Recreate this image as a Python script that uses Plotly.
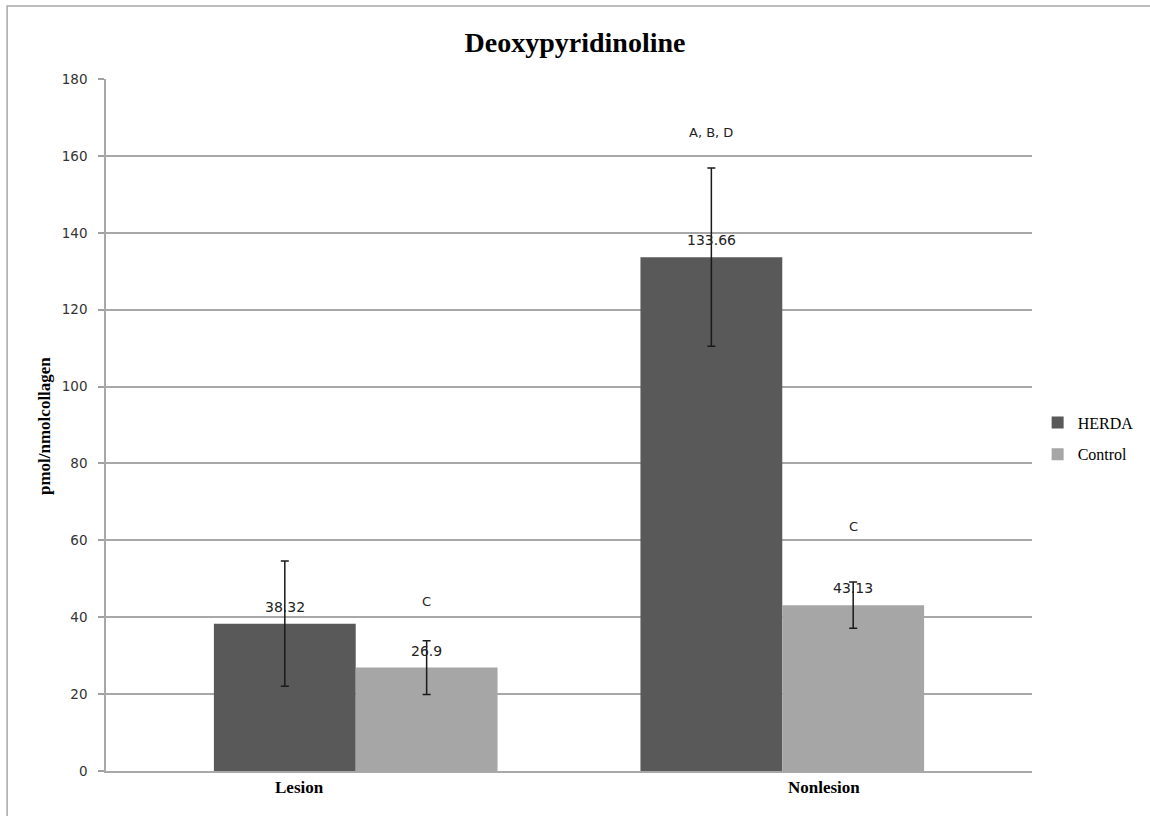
import plotly.graph_objects as go

# Data
categories = ["Lesion", "Nonlesion"]
herda_values = [38.32, 133.66]
herda_errors = [16.3, 23.2]
control_values = [26.9, 43.13]
control_errors = [7.0, 6.0]

# significance letters drawn above selected bars: (category index, series, label, y)
sig_category = [0, 1, 1]
sig_series = ["Control", "HERDA", "Control"]
sig_labels = ["C", "A, B, D", "C"]
sig_y = [44.0, 166.2, 63.5]

y_ticks = [0, 20, 40, 60, 80, 100, 120, 140, 160, 180]

W, H = 1150, 816
L, R, T, B = 106, 117, 79, 45
plot_w = W - L - R
plot_h = H - T - B

BARGAP = 0.335
bar_w = (1 - BARGAP) / 2
x_pos = list(range(len(categories)))

fig = go.Figure()
fig.add_trace(go.Bar(
    name="HERDA", x=x_pos, y=herda_values, marker_color="#595959",
    marker_line_width=0, legendgroup="h",
    error_y=dict(type="data", array=herda_errors, visible=True,
                 color="#1a1a1a", thickness=1.5, width=4),
))
fig.add_trace(go.Bar(
    name="Control", x=x_pos, y=control_values, marker_color="#a6a6a6",
    marker_line_width=0, legendgroup="c",
    error_y=dict(type="data", array=control_errors, visible=True,
                 color="#1a1a1a", thickness=1.5, width=4),
))

annotations = []
# value labels above each bar
for series_vals, off in ((herda_values, -bar_w / 2), (control_values, bar_w / 2)):
    for i, v in enumerate(series_vals):
        annotations.append(dict(
            x=x_pos[i] + off, y=v, xref="x", yref="y", text=f"{v:g}",
            showarrow=False, yshift=17,
            font=dict(family="DejaVu Sans", size=14, color="#222222"),
        ))
# significance letters
for ci, s, lab, yv in zip(sig_category, sig_series, sig_labels, sig_y):
    off = -bar_w / 2 if s == "HERDA" else bar_w / 2
    annotations.append(dict(
        x=x_pos[ci] + off, y=yv, xref="x", yref="y", text=lab,
        showarrow=False, font=dict(family="DejaVu Sans", size=13, color="#222222"),
    ))
# rotated y-axis title
annotations.append(dict(
    x=(45 - L) / plot_w, y=(H - B - 426) / plot_h, xref="paper", yref="paper",
    xanchor="center", yanchor="middle",
    text="<b>pmol/nmolcollagen</b>", textangle=-90, showarrow=False,
    font=dict(family="Liberation Serif", size=17, color="#000000"),
))
# category labels below the axis
cat_label_px = [300, 825]
cat_w = 427.0
for lab, px in zip(categories, cat_label_px):
    annotations.append(dict(
        x=(px - 356) / cat_w, y=-(787 - (H - B)) / plot_h, xref="x", yref="paper",
        xanchor="center", yanchor="middle",
        text=f"<b>{lab}</b>", showarrow=False,
        font=dict(family="Liberation Serif", size=17, color="#000000"),
    ))

x_lo = -(356 - L) / cat_w
x_hi = x_lo + plot_w / cat_w

fig.update_layout(
    width=W, height=H,
    margin=dict(l=L, r=R, t=T, b=B),
    paper_bgcolor="white", plot_bgcolor="white",
    barmode="group", bargap=BARGAP, bargroupgap=0,
    title=dict(text="<b>Deoxypyridinoline</b>", x=575 / W, xanchor="center",
               y=1 - 42 / H, yanchor="middle",
               font=dict(family="Liberation Serif", size=28, color="#000000")),
    xaxis=dict(range=[x_lo, x_hi], showticklabels=False, ticks="",
               showgrid=False, zeroline=False, showline=True,
               linecolor="#a8a8a8", linewidth=1.5, fixedrange=True),
    yaxis=dict(range=[0, 180], tickvals=y_ticks, ticks="outside", ticklen=6,
               tickcolor="#a0a0a0", tickwidth=1.5, ticklabelstandoff=8,
               showgrid=True, gridcolor="#a8a8a8", gridwidth=1.5,
               showline=True, linecolor="#a8a8a8", linewidth=1.5,
               zeroline=False,
               tickfont=dict(family="DejaVu Sans", size=13.5, color="#333333")),
    legend=dict(x=1.005, xanchor="left", y=(H - B - 438.5) / plot_h, yanchor="middle",
                font=dict(family="Liberation Serif", size=16, color="#000000"),
                tracegroupgap=8, bgcolor="rgba(0,0,0,0)"),
    annotations=annotations,
    showlegend=True,
)

# chart border frame
fig.add_shape(type="rect", xref="paper", yref="paper",
              x0=(7 - L) / plot_w, x1=(W + 20 - L) / plot_w,
              y0=-(H + 20 - (H - B)) / plot_h, y1=(H - B - 6) / plot_h,
              line=dict(color="#a8a8a8", width=1.5), fillcolor="rgba(0,0,0,0)",
              layer="below")

fig.write_html("out.html")
